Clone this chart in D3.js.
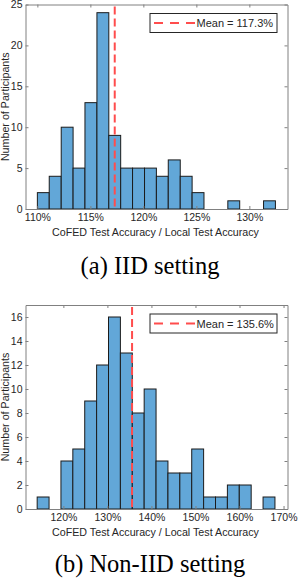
<!DOCTYPE html>
<html>
<head>
<meta charset="utf-8">
<script src="https://cdn.jsdelivr.net/npm/d3@7/dist/d3.min.js"></script>
<style>
  body { margin: 0; background: #fff; }
  svg { display: block; }
  text { font-family: "Liberation Sans", Arial, sans-serif; fill: #262626; }
  .caption { font-family: "Liberation Serif", "Times New Roman", serif; fill: #000; }
</style>
</head>
<body>
<svg id="chart" width="298" height="582"></svg>
<script>
// IID setting
const iidEdges = [110.0, 111.12, 112.25, 113.37, 114.49, 115.62, 116.74, 117.86, 118.98, 120.11,
  121.23, 122.35, 123.48, 124.60, 125.72, 126.85, 127.97, 129.09, 130.21, 131.34, 132.46];
const iidCounts = [2, 4, 10, 5, 13, 24, 9, 5, 5, 5, 4, 6, 4, 2, 0, 0, 1, 0, 0, 1];
const iidMean = 117.3;
const iidXTicks = [110, 115, 120, 125, 130];
const iidYTicks = [0, 5, 10, 15, 20, 25];

// Non-IID setting
const nonIidEdges = [114.05, 116.75, 119.45, 122.15, 124.85, 127.55, 130.25, 132.95, 135.65, 138.35,
  141.05, 143.75, 146.45, 149.15, 151.85, 154.55, 157.25, 159.95, 162.65, 165.35, 168.05];
const nonIidCounts = [1, 0, 4, 5, 9, 12, 16, 13, 8, 10, 4, 3, 3, 5, 1, 1, 2, 2, 0, 1];
const nonIidMean = 135.6;
const nonIidXTicks = [120, 130, 140, 150, 160, 170];
const nonIidYTicks = [0, 2, 4, 6, 8, 10, 12, 14, 16];

const svg = d3.select('#chart');

const panels = [
  {
    edges: iidEdges, counts: iidCounts, mean: iidMean,
    xTicks: iidXTicks, yTicks: iidYTicks,
    xDomain: [108.88, 133.6], yDomain: [0, 25],
    top: 4.5, bottom: 209, caption: '(a) IID setting', captionY: 273.5,
  },
  {
    edges: nonIidEdges, counts: nonIidCounts, mean: nonIidMean,
    xTicks: nonIidXTicks, yTicks: nonIidYTicks,
    xDomain: [111.4, 170.9], yDomain: [0, 17],
    top: 305, bottom: 509, caption: '(b) Non-IID setting', captionY: 572,
  },
];

const left = 25.5, right = 287.5;
const axisColor = '#808080';
const tickLen = 3;

panels.forEach(p => {
  const x = d3.scaleLinear().domain(p.xDomain).range([left, right]);
  const y = d3.scaleLinear().domain(p.yDomain).range([p.bottom, p.top]);
  const g = svg.append('g');

  // bars
  const bins = p.counts.map((c, i) => ({ x0: p.edges[i], x1: p.edges[i + 1], count: c }));
  g.selectAll('rect.bar')
    .data(bins)
    .enter()
    .append('rect')
    .attr('class', 'bar')
    .attr('x', d => x(d.x0))
    .attr('y', d => y(d.count))
    .attr('width', d => x(d.x1) - x(d.x0))
    .attr('height', d => y(0) - y(d.count))
    .attr('fill', '#62a7d8')
    .attr('stroke', '#1b1b1b')
    .attr('stroke-width', 1);

  // mean line
  g.append('line')
    .attr('x1', x(p.mean)).attr('x2', x(p.mean))
    .attr('y1', y(p.yDomain[1]) + 2).attr('y2', y(0))
    .attr('stroke', '#ff4d4d')
    .attr('stroke-width', 2)
    .attr('stroke-dasharray', '8,4');

  // axes (box with inward ticks)
  const bottomAxis = d3.axisBottom(x).tickValues(p.xTicks).tickFormat(d => d + '%')
    .tickSizeInner(-tickLen).tickSizeOuter(0).tickPadding(5);
  const topAxis = d3.axisTop(x).tickValues(p.xTicks).tickFormat('')
    .tickSizeInner(-tickLen).tickSizeOuter(0);
  const leftAxis = d3.axisLeft(y).tickValues(p.yTicks)
    .tickSizeInner(-tickLen).tickSizeOuter(0).tickPadding(3);
  const rightAxis = d3.axisRight(y).tickValues(p.yTicks).tickFormat('')
    .tickSizeInner(-tickLen).tickSizeOuter(0);

  const axes = [
    g.append('g').attr('transform', `translate(0,${p.bottom})`).call(bottomAxis),
    g.append('g').attr('transform', `translate(0,${p.top})`).call(topAxis),
    g.append('g').attr('transform', `translate(${left},0)`).call(leftAxis),
    g.append('g').attr('transform', `translate(${right},0)`).call(rightAxis),
  ];
  axes.forEach(a => {
    a.selectAll('path, line').attr('stroke', axisColor);
    a.selectAll('text').attr('font-size', 10.5).attr('fill', '#262626')
      .attr('font-family', '"Liberation Sans", Arial, sans-serif');
  });

  // axis labels
  g.append('text')
    .attr('x', (left + right) / 2 - 1)
    .attr('y', p.bottom + 27)
    .attr('text-anchor', 'middle')
    .attr('font-size', 10.7)
    .text('CoFED Test Accuracy / Local Test Accuracy');

  g.append('text')
    .attr('transform', `translate(9,${(p.top + p.bottom) / 2}) rotate(-90)`)
    .attr('text-anchor', 'middle')
    .attr('font-size', 10.7)
    .text('Number of Participants');

  // legend
  const lg = g.append('g').attr('transform', `translate(150,${p.top + 9})`);
  lg.append('rect')
    .attr('width', 127).attr('height', 19)
    .attr('fill', '#fff').attr('stroke', '#262626').attr('stroke-width', 1);
  lg.append('line')
    .attr('x1', 4).attr('x2', 45).attr('y1', 9.5).attr('y2', 9.5)
    .attr('stroke', '#ff4d4d').attr('stroke-width', 2)
    .attr('stroke-dasharray', '9,7');
  lg.append('text')
    .attr('x', 46.5).attr('y', 13.5)
    .attr('font-size', 11)
    .text(`Mean = ${p.mean.toFixed(1)}%`);

  // caption
  svg.append('text')
    .attr('class', 'caption')
    .attr('x', 150)
    .attr('y', p.captionY)
    .attr('text-anchor', 'middle')
    .attr('font-size', 24.5)
    .text(p.caption);
});
</script>
</body>
</html>
